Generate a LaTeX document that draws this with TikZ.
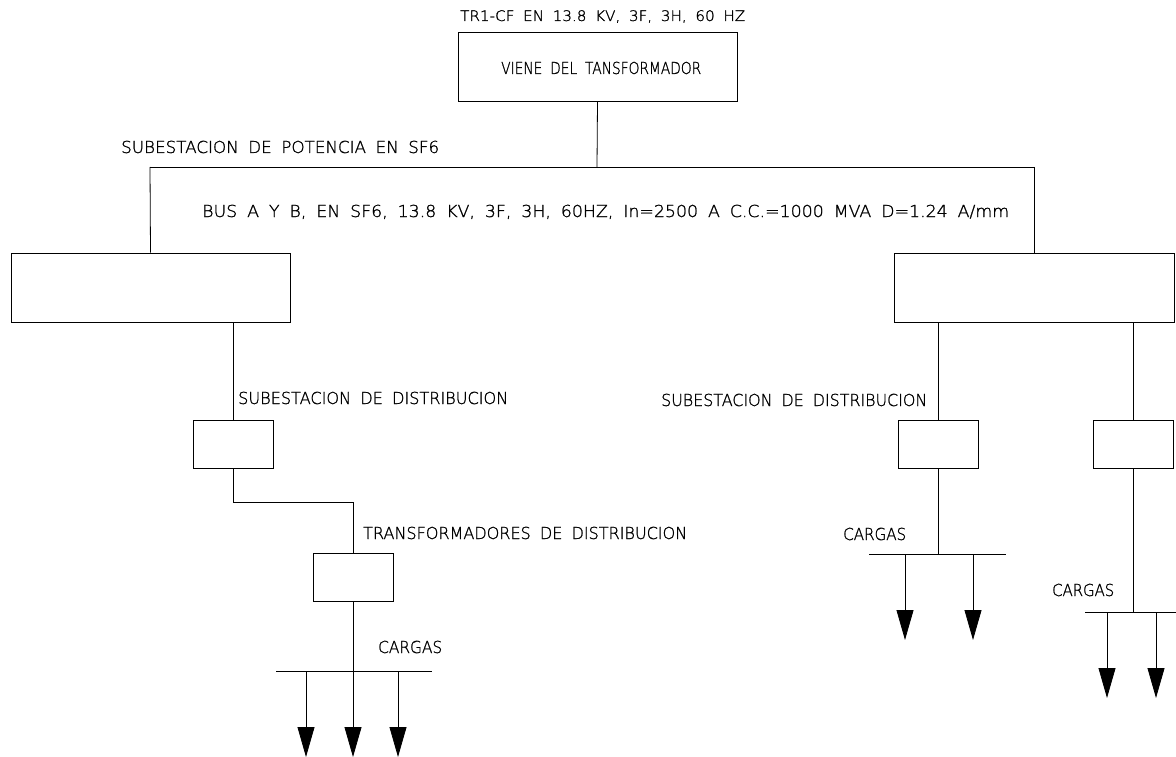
\documentclass[tikz,border=0pt]{standalone}
\usepackage{fontspec}
\setmainfont{DejaVuSans-ExtraLight.ttf}[WordSpace=1.8, FakeBold=1.2]
\usetikzlibrary{arrows.meta}
\newcommand\fw[2]{\resizebox{#1pt}{\height}{#2}}
\tikzset{
  ln/.style={line width=0.8pt, draw=black},
  box/.style={ln, draw, rectangle, inner sep=0, minimum width=#1},
  bigbox/.style={box=279pt, minimum height=69pt},
  smallbox/.style={box=80pt, minimum height=48pt},
  lbl/.style={font=\fontsize{16.5}{18}\selectfont, inner sep=0, anchor=base west},
  load/.style={ln, -{Triangle[width=17pt,length=30pt]}}
}
\begin{document}
\begin{tikzpicture}[x=1pt,y=-1pt]
\useasboundingbox (0,0) rectangle (1176,757);
% boxes
\node[bigbox] (top) at (597.5,66.5) {};
\node[bigbox] (bl) at (150.5,287.5) {};
\node[bigbox, minimum width=280pt] (br) at (1034,287.5) {};
\node[smallbox] (sd1) at (233,444) {};
\node[smallbox] (td1) at (353,577) {};
\node[smallbox] (sd2) at (938,444) {};
\node[smallbox] (sd3) at (1133,444) {};
% texts
\node[lbl, font=\fontsize{14.5}{16}\selectfont] (t1) at (460,21) {\fw{285}{TR1-CF EN 13.8 KV, 3F, 3H, 60 HZ}};
\node[lbl] (t2) at (501,74) {\fw{200}{VIENE DEL TANSFORMADOR}};
\node[lbl] (t3) at (121,153) {\fw{318}{SUBESTACION DE POTENCIA EN SF6}};
\node[lbl] (t4) at (202,217) {\fw{807}{BUS A Y B, EN SF6, 13.8 KV, 3F, 3H, 60HZ, In=2500 A C.C.=1000 MVA D=1.24 A/mm}};
\node[lbl] (t5) at (238,404) {\fw{270}{SUBESTACION DE DISTRIBUCION}};
\node[lbl] (t6) at (661,406) {\fw{266}{SUBESTACION DE DISTRIBUCION}};
\node[lbl] (t7) at (363,539) {\fw{324}{TRANSFORMADORES DE DISTRIBUCION}};
\node[lbl] (t8) at (378,653) {\fw{64}{CARGAS}};
\node[lbl] (t9) at (843,540) {\fw{63}{CARGAS}};
\node[lbl] (t10) at (1052,596) {\fw{62}{CARGAS}};
% main bus
\coordinate (mb) at (597,167);
\coordinate (mbl) at (150,167);
\coordinate (mbr) at (1034,167);
\draw[ln] (top.south) -- (mb);
\draw[ln] (mbl) -- (mbr);
\draw[ln] (mbl) -- (bl.north);
\draw[ln] (mbr) -- (br.north);
% left branch
\coordinate (blo) at (233,322);
\draw[ln] (blo) -- (sd1.north);
\coordinate (k1) at (233,502);
\coordinate (k2) at (353,502);
\draw[ln] (sd1.south) -- (k1) -- (k2) -- (td1.north);
\coordinate (lb) at (353,671);
\coordinate (lbw) at (276,671);
\coordinate (lbe) at (432,671);
\draw[ln] (td1.south) -- (lb);
\draw[ln] (lbw) -- (lbe);
\coordinate (l1) at (306,671);
\coordinate (l3) at (398,671);
\coordinate (a1) at (306,757);
\coordinate (a2) at (353,757);
\coordinate (a3) at (398,757);
\draw[load] (l1) -- (a1);
\draw[load] (lb) -- (a2);
\draw[load] (l3) -- (a3);
% right branch 1
\coordinate (bro1) at (938,322);
\draw[ln] (bro1) -- (sd2.north);
\coordinate (rb1) at (938,554);
\draw[ln] (sd2.south) -- (rb1);
\coordinate (rb1w) at (869,554);
\coordinate (rb1e) at (1006,554);
\draw[ln] (rb1w) -- (rb1e);
\coordinate (r11) at (905,554);
\coordinate (r12) at (973,554);
\coordinate (b11) at (905,640);
\coordinate (b12) at (973,640);
\draw[load] (r11) -- (b11);
\draw[load] (r12) -- (b12);
% right branch 2
\coordinate (bro2) at (1133,322);
\draw[ln] (bro2) -- (sd3.north);
\coordinate (rb2) at (1133,612);
\draw[ln] (sd3.south) -- (rb2);
\coordinate (rb2w) at (1085,612);
\coordinate (rb2e) at (1176,612);
\draw[ln] (rb2w) -- (rb2e);
\coordinate (r21) at (1107,612);
\coordinate (r22) at (1156,612);
\coordinate (b21) at (1107,698);
\coordinate (b22) at (1156,698);
\draw[load] (r21) -- (b21);
\draw[load] (r22) -- (b22);
\end{tikzpicture}
\end{document}
